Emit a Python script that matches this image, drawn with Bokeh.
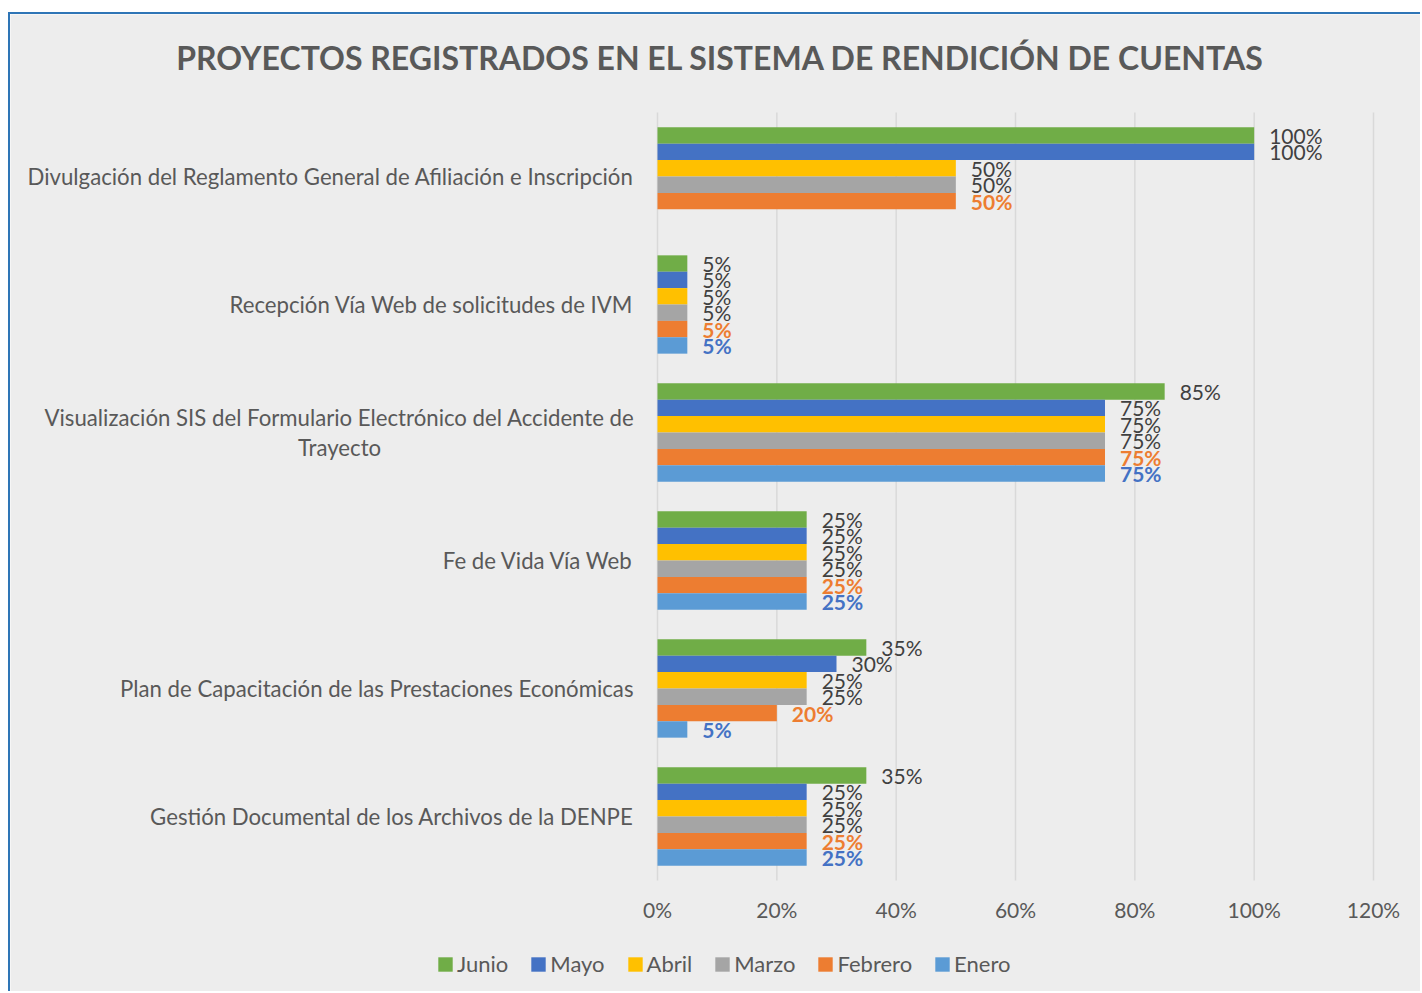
from bokeh.plotting import figure
from bokeh.models import (Range1d, ColumnDataSource, Legend, LegendItem,
                          NumeralTickFormatter, FixedTicker)
from bokeh.core.properties import value
from bokeh.embed import file_html
from bokeh.resources import INLINE

title_text = "PROYECTOS REGISTRADOS EN EL SISTEMA DE RENDICIÓN DE CUENTAS"

categories = [
    "Divulgación del Reglamento General de Afiliación e Inscripción",
    "Recepción Vía Web de solicitudes de IVM",
    "Visualización SIS del Formulario Electrónico del Accidente de Trayecto",
    "Fe de Vida Vía Web",
    "Plan de Capacitación de las Prestaciones Económicas",
    "Gestión Documental de los Archivos de la DENPE",
]
# how each category name is wrapped on screen
category_lines = {
    "Visualización SIS del Formulario Electrónico del Accidente de Trayecto":
        ["Visualización SIS del Formulario Electrónico del Accidente de", "Trayecto"],
}

months = ["Junio", "Mayo", "Abril", "Marzo", "Febrero", "Enero"]
junio = [1.00, 0.05, 0.85, 0.25, 0.35, 0.35]
mayo = [1.00, 0.05, 0.75, 0.25, 0.30, 0.25]
abril = [0.50, 0.05, 0.75, 0.25, 0.25, 0.25]
marzo = [0.50, 0.05, 0.75, 0.25, 0.25, 0.25]
febrero = [0.50, 0.05, 0.75, 0.25, 0.20, 0.25]
enero = [None, 0.05, 0.75, 0.25, 0.05, 0.25]
series = [junio, mayo, abril, marzo, febrero, enero]

x_ticks = [0, 0.2, 0.4, 0.6, 0.8, 1.0, 1.2]

bar_colors = ["#70AD47", "#4472C4", "#FFC000", "#A5A5A5", "#ED7D31", "#5B9BD5"]
label_colors = ["#404040", "#404040", "#404040", "#404040", "#ED7D31", "#4472C4"]
label_styles = ["normal", "normal", "normal", "normal", "bold", "bold"]

BG = "#EDEDED"
TXT = "#595959"
FONT = "Lato"

# ---- layout (pixels) ----
W, H = 1412, 979
ZERO_PX = 647             # canvas left -> 0% line
SCALE_X = 716 / 1.2       # px per 100%
BAND_PX = 128             # px per category band
TOP_PX = 98               # canvas top -> first band
BOTTOM_PX = 113           # last band -> canvas bottom
TITLE_X_PX = 63           # title centre, right of the 0% line
TITLE_Y_PX = 55           # title centre, above first band
LINE_PX = 15              # half line spacing of wrapped labels

bar_h = 16.4 / BAND_PX
offsets = [0.32, 0.192, 0.064, -0.064, -0.192, -0.32]

n = len(categories)
ypos = [n - 0.5 - i for i in range(n)]   # category centres, first at top

p = figure(
    width=W, height=H, title=None,
    x_range=Range1d(-ZERO_PX / SCALE_X, (W - ZERO_PX) / SCALE_X),
    y_range=Range1d(-BOTTOM_PX / BAND_PX, n + TOP_PX / BAND_PX),
    output_backend="svg", toolbar_location=None,
    min_border=0,
)
p.styles = {"margin-left": "8px", "margin-top": "12px",
            "border-top": "2px solid #2E75B6", "border-left": "2px solid #2E75B6"}
p.background_fill_color = BG
p.border_fill_color = BG
p.outline_line_color = None

# vertical grid lines over the category bands
p.segment(x0=x_ticks, x1=x_ticks, y0=0, y1=n, line_color="#D9D9D9", line_width=1.5)

legend_items = []
for m, vals, col, lcol, lsty, off in zip(months, series, bar_colors, label_colors,
                                          label_styles, offsets):
    ys = [y + off for y, v in zip(ypos, vals) if v is not None]
    vs = [v for v in vals if v is not None]
    src = ColumnDataSource(dict(y=ys, val=vs, txt=[f"{round(v * 100)}%" for v in vs]))
    r = p.hbar(y="y", right="val", left=0, height=bar_h, source=src,
               fill_color=col, line_color=None)
    legend_items.append(LegendItem(label=m, renderers=[r]))
    p.text(x="val", y="y", text="txt", source=src, x_offset=15,
           text_baseline="middle", text_align="left", text_font=value(FONT),
           text_font_size="21px", text_color=lcol, text_font_style=lsty)

# category labels
single = [(c, y) for c, y in zip(categories, ypos) if c not in category_lines]
p.text(x=0, y=[y for _, y in single], text=[c for c, _ in single],
       x_offset=-24, text_align="right", text_baseline="middle",
       text_font=value(FONT), text_font_size="22.2px", text_color=TXT)
for c, y in zip(categories, ypos):
    if c in category_lines:
        lines = category_lines[c]
        k = len(lines)
        ly = [y + LINE_PX * (k - 1 - 2 * i) / BAND_PX for i in range(k)]
        p.text(x=0, y=ly, text=lines, x_offset=-318, text_align="center",
               text_baseline="middle", text_font=value(FONT),
               text_font_size="22.2px", text_color=TXT)

# title
p.text(x=[TITLE_X_PX / SCALE_X], y=[n + TITLE_Y_PX / BAND_PX], text=[title_text],
       text_align="center", text_baseline="middle", text_font=value(FONT),
       text_font_size="32px", text_font_style="bold", text_color=TXT)

# x axis, fixed at the bottom of the bands
p.xaxis.fixed_location = 0
p.xaxis.ticker = FixedTicker(ticks=x_ticks)
p.xaxis.formatter = NumeralTickFormatter(format="0%")
p.xaxis.axis_line_color = None
p.xaxis.major_tick_line_color = None
p.xaxis.minor_tick_line_color = None
p.xaxis.major_tick_out = 0
p.xaxis.major_tick_in = 0
p.xaxis.major_label_standoff = 16
p.xaxis.major_label_text_font = FONT
p.xaxis.major_label_text_font_size = "21px"
p.xaxis.major_label_text_color = TXT

p.yaxis.visible = False
p.xgrid.visible = False
p.ygrid.visible = False

legend = Legend(items=legend_items, orientation="horizontal", location=(426, 16),
                glyph_width=18, glyph_height=18, label_standoff=3, spacing=21,
                padding=0, margin=0, background_fill_alpha=0, border_line_color=None,
                label_text_font=FONT, label_text_font_size="22px", label_text_color=TXT)
p.add_layout(legend, "center")

open("out.html", "w").write(file_html(p, INLINE))
